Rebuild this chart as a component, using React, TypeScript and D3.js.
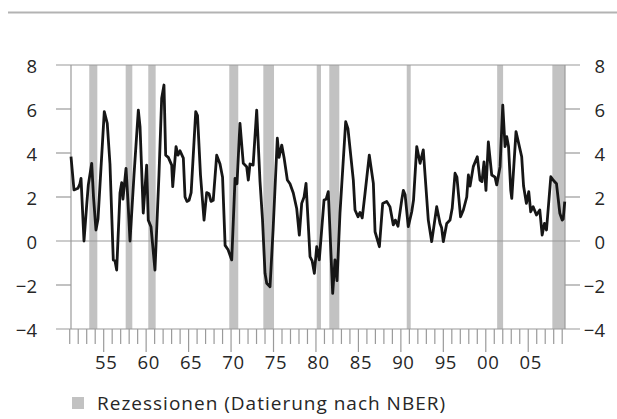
import React from "react";
import * as d3 from "d3";

const years: number[] = [
  1951.15, 1951.5, 1951.97, 1952.2, 1952.33, 1952.68, 1953.0, 1953.19, 1953.59, 1953.8, 1954.09, 1954.33,
  1955.07, 1955.42, 1955.74, 1956.13, 1956.33, 1956.53, 1956.92, 1957.12, 1957.27, 1957.63, 1957.86, 1958.1,
  1958.57, 1959.08, 1959.28, 1959.66, 1960.06, 1960.25, 1960.57, 1961.04, 1961.51, 1961.83, 1962.1, 1962.3,
  1962.61, 1963.01, 1963.13, 1963.52, 1963.75, 1963.99, 1964.38, 1964.58, 1964.81, 1965.05, 1965.3, 1965.84,
  1966.05, 1966.4, 1966.82, 1967.13, 1967.4, 1967.64, 1967.9, 1968.31, 1968.7, 1969.0, 1969.3, 1969.65,
  1970.08, 1970.47, 1970.7, 1971.05, 1971.44, 1971.84, 1972.03, 1972.23, 1972.6, 1973.02, 1973.41, 1973.7,
  1974.0, 1974.2, 1974.59, 1974.95, 1975.45, 1975.65, 1975.97, 1976.24, 1976.63, 1976.94, 1977.33, 1977.73,
  1978.04, 1978.32, 1978.6, 1978.83, 1979.3, 1979.55, 1979.81, 1980.09, 1980.39, 1980.95, 1981.2, 1981.45,
  1981.97, 1982.24, 1982.48, 1982.83, 1983.5, 1983.77, 1984.4, 1984.6, 1984.95, 1985.19, 1985.45, 1985.78,
  1986.28, 1986.76, 1986.96, 1987.47, 1987.86, 1988.33, 1988.72, 1989.11, 1989.35, 1989.66, 1990.1, 1990.29,
  1990.5, 1990.87, 1991.28, 1991.49, 1991.87, 1992.26, 1992.64, 1992.85, 1993.23, 1993.63, 1993.94, 1994.22,
  1994.61, 1994.8, 1995.0, 1995.4, 1995.79, 1996.05, 1996.38, 1996.6, 1997.03, 1997.36, 1997.76, 1997.95,
  1998.15, 1998.53, 1999.0, 1999.32, 1999.55, 1999.79, 2000.02, 2000.3, 2000.7, 2001.09, 2001.29, 2001.68,
  2002.0, 2002.27, 2002.47, 2002.68, 2002.94, 2003.06, 2003.56, 2004.23, 2004.45, 2004.78, 2005.06, 2005.29,
  2005.58, 2005.97, 2006.36, 2006.64, 2006.91, 2007.15, 2007.66, 2007.98, 2008.33, 2008.72, 2009.0, 2009.12,
  2009.3,
];
const values: number[] = [
  3.83, 2.32, 2.4, 2.6, 2.85, 0.0, 1.64, 2.55, 3.53, 2.0, 0.5, 1.0,
  5.88, 5.35, 3.5, -0.86, -0.9, -1.32, 2.18, 2.65, 1.9, 3.3, 1.8, 0.0,
  3.0, 5.95, 5.2, 1.27, 3.45, 0.95, 0.65, -1.32, 3.0, 6.49, 7.09, 3.9,
  3.8, 3.45, 2.47, 4.29, 3.9, 4.1, 3.77, 2.0, 1.8, 1.85, 2.2, 5.88,
  5.7, 3.0, 0.95, 2.2, 2.15, 1.8, 1.85, 3.9, 3.5, 2.9, -0.2, -0.4,
  -0.86, 2.85, 2.6, 5.35, 3.53, 3.38, 2.77, 3.5, 3.45, 5.95, 2.7, 1.0,
  -1.47, -1.92, -2.08, 0.5, 4.67, 3.8, 4.36, 3.8, 2.77, 2.6, 2.18, 1.48,
  0.27, 1.71, 2.0, 2.62, -0.71, -0.9, -1.47, -0.26, -0.86, 1.86, 1.9, 2.24,
  -2.38, -0.86, -1.8, 1.27, 5.42, 5.1, 2.77, 1.41, 1.1, 1.3, 1.05, 2.17,
  3.9, 2.62, 0.42, -0.26, 1.71, 1.8, 1.55, 0.73, 0.95, 0.67, 1.86, 2.3,
  2.1, 0.65, 1.33, 1.86, 4.29, 3.53, 4.14, 3.0, 0.95, -0.03, 0.8, 1.56,
  0.8, 0.6, -0.03, 0.8, 0.95, 1.5, 3.08, 2.9, 1.1, 1.41, 2.0, 3.0,
  2.5, 3.38, 3.83, 2.77, 2.7, 3.6, 2.3, 4.5, 3.0, 2.9, 2.55, 3.38,
  6.18, 4.29, 4.74, 4.29, 2.3, 1.94, 4.97, 3.83, 2.5, 1.71, 2.24, 1.33,
  1.56, 1.18, 1.41, 0.27, 0.8, 0.5, 2.92, 2.75, 2.6, 1.26, 0.95, 1.0,
  1.79,
];

// NBER recessions (start, end)
const recessionStarts: number[] = [1953.3, 1957.59, 1960.25, 1969.79, 1973.8, 1980.09, 1981.57, 1990.69, 2001.34, 2007.84];
const recessionEnds: number[] = [1954.25, 1958.37, 1961.12, 1970.85, 1975.06, 1980.59, 1982.75, 1991.16, 2002.04, 2009.33];

const yTicks: number[] = [-4, -2, 0, 2, 4, 6, 8];
const yFullLines: number[] = [-4, 0, 8];
const xTickLabels: string[] = ["55", "60", "65", "70", "75", "80", "85", "90", "95", "00", "05"];
const xLabelYears: number[] = [1955, 1960, 1965, 1970, 1975, 1980, 1985, 1990, 1995, 2000, 2005];
const legendLabel = "Rezessionen (Datierung nach NBER)";

export default function App() {
  const W = 617;
  const H = 419;
  const left = 71;
  const right = 565;
  const x = d3.scaleLinear().domain([1951.15, 2009.33]).range([left, right]);
  const y = d3.scaleLinear().domain([-4, 8]).range([329, 65]);

  const yearTicks = d3.range(1951, 2010);
  const data = years.map((yr, i) => [yr, values[i]] as [number, number]);
  const line = d3
    .line<[number, number]>()
    .x((d) => x(d[0]))
    .y((d) => y(d[1]));

  const font = "'Open Sans', sans-serif";
  const textColor = "#262626";
  const axisColor = "#9a9a9a";
  const barColor = "#c2c2c2";
  const fs = 18.5;

  return (
    <div style={{ position: "absolute", left: 0, top: 0 }}>
      <svg width={W} height={H} style={{ display: "block", background: "#fff" }}>
        <line x1={8} x2={617} y1={12.5} y2={12.5} stroke="#b3b3b3" strokeWidth={2} />

        {recessionStarts.map((s, i) => (
          <rect
            key={"r" + i}
            x={x(s)}
            y={y(8)}
            width={x(recessionEnds[i]) - x(s)}
            height={y(-4) - y(8)}
            fill={barColor}
          />
        ))}

        {/* vertical axes */}
        <line x1={left} x2={left} y1={y(8)} y2={y(-4)} stroke={axisColor} strokeWidth={1.2} />
        <line x1={right} x2={right} y1={y(8)} y2={y(-4)} stroke={axisColor} strokeWidth={1.2} />

        {/* y ticks */}
        {yTicks.map((t) =>
          yFullLines.includes(t) ? (
            <line key={"yf" + t} x1={56} x2={580} y1={y(t)} y2={y(t)} stroke={axisColor} strokeWidth={1.2} />
          ) : (
            <g key={"yt" + t}>
              <line x1={56} x2={left} y1={y(t)} y2={y(t)} stroke={axisColor} strokeWidth={1.2} />
              <line x1={right} x2={580} y1={y(t)} y2={y(t)} stroke={axisColor} strokeWidth={1.2} />
            </g>
          )
        )}
        {yTicks.map((t) => (
          <g key={"yl" + t} fontFamily={font} fontSize={fs} fill={textColor}>
            <text x={37} y={y(t)} textAnchor="end" dominantBaseline="central">
              {t < 0 ? "\u2212" + Math.abs(t) : String(t)}
            </text>
            <text x={605} y={y(t)} textAnchor="end" dominantBaseline="central">
              {t < 0 ? "\u2212" + Math.abs(t) : String(t)}
            </text>
          </g>
        ))}

        {/* x ticks */}
        {yearTicks.map((yr) => (
          <line
            key={"xt" + yr}
            x1={x(yr)}
            x2={x(yr)}
            y1={y(-4)}
            y2={yr % 5 === 0 ? 352 : 344}
            stroke={axisColor}
            strokeWidth={1.2}
          />
        ))}
        {xLabelYears.map((yr, i) => (
          <text
            key={"xl" + yr}
            x={x(yr) + 2.5}
            y={369}
            textAnchor="middle"
            fontFamily={font}
            fontSize={fs}
            fill={textColor}
            letterSpacing={0.6}
          >
            {xTickLabels[i]}
          </text>
        ))}

        <path d={line(data) || ""} fill="none" stroke="#161616" strokeWidth={2.8} strokeLinejoin="round" />

        {/* legend */}
        <rect x={72} y={397} width={12} height={12} fill={barColor} />
        <text x={97} y={410} fontFamily={font} fontSize={19} fill={textColor} letterSpacing={1}>
          {legendLabel}
        </text>
      </svg>
    </div>
  );
}
